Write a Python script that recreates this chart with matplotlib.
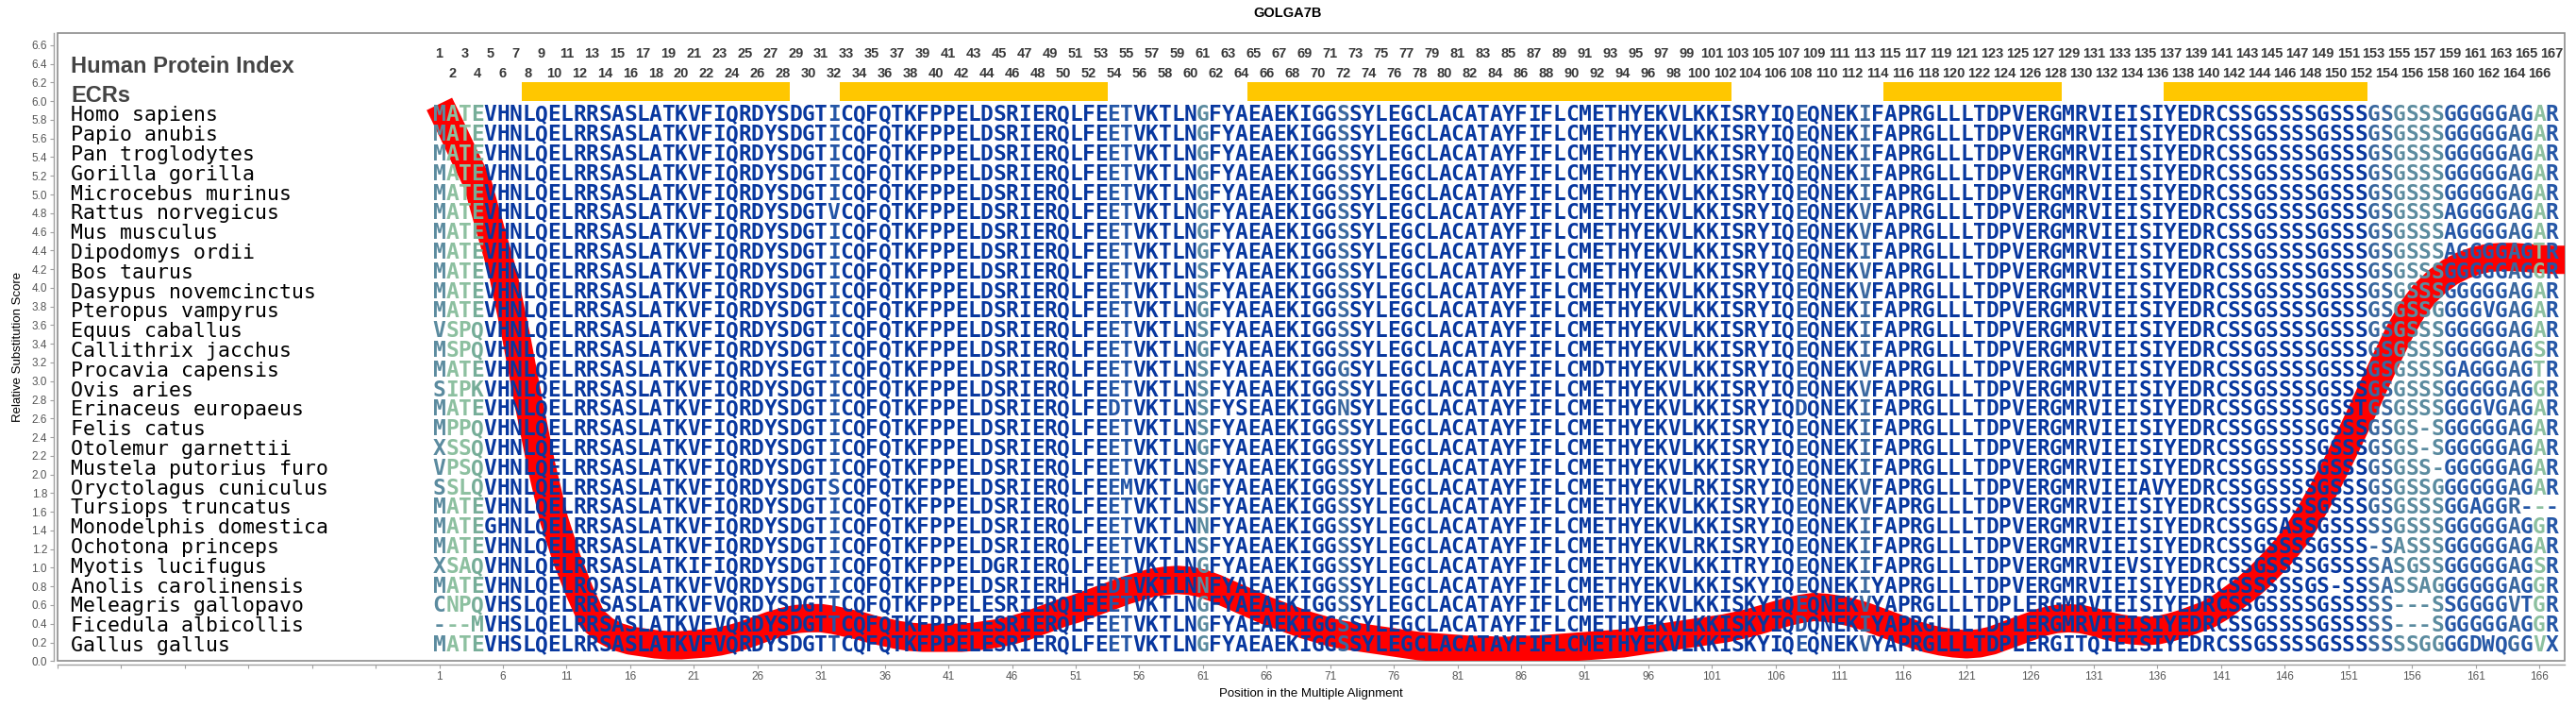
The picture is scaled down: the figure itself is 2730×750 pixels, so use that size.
import matplotlib
matplotlib.use('Agg')
import matplotlib.pyplot as plt
import numpy as np
from matplotlib.patches import Rectangle

# ---------------- data ----------------
title = "GOLGA7B"
species = ["Homo sapiens", "Papio anubis", "Pan troglodytes", "Gorilla gorilla",
           "Microcebus murinus", "Rattus norvegicus", "Mus musculus", "Dipodomys ordii",
           "Bos taurus", "Dasypus novemcinctus", "Pteropus vampyrus", "Equus caballus",
           "Callithrix jacchus", "Procavia capensis", "Ovis aries", "Erinaceus europaeus",
           "Felis catus", "Otolemur garnettii", "Mustela putorius furo", "Oryctolagus cuniculus",
           "Tursiops truncatus", "Monodelphis domestica", "Ochotona princeps", "Myotis lucifugus",
           "Anolis carolinensis", "Meleagris gallopavo", "Ficedula albicollis", "Gallus gallus"]

# alignment, split in four blocks: cols 1-43, 44-85, 86-127, 128-167
seq_block1 = [
    "MATEVHNLQELRRSASLATKVFIQRDYSDGTICQFQTKFPPEL",  # Homo
    "MATEVHNLQELRRSASLATKVFIQRDYSDGTICQFQTKFPPEL",  # Papio
    "MATEVHNLQELRRSASLATKVFIQRDYSDGTICQFQTKFPPEL",  # Pan
    "MATEVHNLQELRRSASLATKVFIQRDYSDGTICQFQTKFPPEL",  # Gorilla
    "MATEVHNLQELRRSASLATKVFIQRDYSDGTICQFQTKFPPEL",  # Microcebus
    "MATEVHNLQELRRSASLATKVFIQRDYSDGTVCQFQTKFPPEL",  # Rattus
    "MATEVHNLQELRRSASLATKVFIQRDYSDGTICQFQTKFPPEL",  # Mus
    "MATEVHNLQELRRSASLATKVFIQRDYSDGTICQFQTKFPPEL",  # Dipodomys
    "MATEVHNLQELRRSASLATKVFIQRDYSDGTICQFQTKFPPEL",  # Bos
    "MATEVHNLQELRRSASLATKVFIQRDYSDGTICQFQTKFPPEL",  # Dasypus
    "MATEVHNLQELRRSASLATKVFIQRDYSDGTICQFQTKFPPEL",  # Pteropus
    "VSPQVHNLQELRRSASLATKVFIQRDYSDGTICQFQTKFPPEL",  # Equus
    "MSPQVHNLQELRRSASLATKVFIQRDYSDGTICQFQTKFPPEL",  # Callithrix
    "MATEVHNLQELRRSASLATKVFIQRDYSEGTICQFQTKFPPEL",  # Procavia
    "SIPKVHNLQELRRSASLATKVFIQRDYSDGTICQFQTKFPPEL",  # Ovis
    "MATEVHNLQELRRSASLATKVFIQRDYSDGTICQFQTKFPPEL",  # Erinaceus
    "MPPQVHNLQELRRSASLATKVFIQRDYSDGTICQFQTKFPPEL",  # Felis
    "XSSQVHNLQELRRSASLATKVFIQRDYSDGTICQFQTKFPPEL",  # Otolemur
    "VPSQVHNLQELRRSASLATKVFIQRDYSDGTICQFQTKFPPEL",  # Mustela
    "SSLQVHNLQELRRSASLATKVFIQRDYSDGTSCQFQTKFPPEL",  # Oryctolagus
    "MATEVHNLQELRRSASLATKVFIQRDYSDGTICQFQTKFPPEL",  # Tursiops
    "MATEGHNLQELRRSASLATKVFIQRDYSDGTICQFQTKFPPEL",  # Monodelphis
    "MATEVHNLQELRRSASLATKVFIQRDYSDGTICQFQTKFPPEL",  # Ochotona
    "XSAQVHNLQELRRSASLATKIFIQRDYSDGTICQFQTKFPPEL",  # Myotis
    "MATEVHNLQELRQSASLATKVFVQRDYSDGTICQFQTKFPPEL",  # Anolis
    "CNPQVHSLQELRRSASLATKVFVQRDYSDGTTCQFQTKFPPEL",  # Meleagris
    "---MVHSLQELRRSASLATKVFVQRDYSDGTTCQFQTKFPPEL",  # Ficedula
    "MATEVHSLQELRRSASLATKVFVQRDYSDGTTCQFQTKFPPEL",  # Gallus
]
seq_block2 = [
    "DSRIERQLFEETVKTLNGFYAEAEKIGGSSYLEGCLACATAY",  # Homo
    "DSRIERQLFEETVKTLNGFYAEAEKIGGSSYLEGCLACATAY",
    "DSRIERQLFEETVKTLNGFYAEAEKIGGSSYLEGCLACATAY",
    "DSRIERQLFEETVKTLNGFYAEAEKIGGSSYLEGCLACATAY",
    "DSRIERQLFEETVKTLNGFYAEAEKIGGSSYLEGCLACATAY",
    "DSRIERQLFEETVKTLNGFYAEAEKIGGSSYLEGCLACATAY",  # Rattus
    "DSRIERQLFEETVKTLNGFYAEAEKIGGSSYLEGCLACATAY",  # Mus
    "DSRIERQLFEETVKTLNGFYAEAEKIGGSSYLEGCLACATAY",  # Dipodomys
    "DSRIERQLFEETVKTLNSFYAEAEKIGGSSYLEGCLACATAY",  # Bos
    "DSRIERQLFEETVKTLNSFYAEAEKIGGSSYLEGCLACATAY",  # Dasypus
    "DSRIERQLFEETVKTLNGFYAEAEKIGGSSYLEGCLACATAY",  # Pteropus
    "DSRIERQLFEETVKTLNSFYAEAEKIGGSSYLEGCLACATAY",  # Equus
    "DSRIERQLFEETVKTLNGFYAEAEKIGGSSYLEGCLACATAY",  # Callithrix
    "DSRIERQLFEETVKTLNSFYAEAEKIGGGSYLEGCLACATAY",  # Procavia
    "DSRIERQLFEETVKTLNSFYAEAEKIGGSSYLEGCLACATAY",  # Ovis
    "DSRIERQLFEDTVKTLNSFYSEAEKIGGNSYLEGCLACATAY",  # Erinaceus
    "DSRIERQLFEETVKTLNSFYAEAEKIGGSSYLEGCLACATAY",  # Felis
    "DSRIERQLFEETVKTLNGFYAEAEKIGGSSYLEGCLACATAY",  # Otolemur
    "DSRIERQLFEETVKTLNSFYAEAEKIGGSSYLEGCLACATAY",  # Mustela
    "DSRIERQLFEEMVKTLNGFYAEAEKIGGSSYLEGCLACATAY",  # Oryctolagus
    "DSRIERQLFEETVKTLNSFYAEAEKIGGSSYLEGCLACATAY",  # Tursiops
    "DSRIERQLFEETVKTLNNFYAEAEKIGGSSYLEGCLACATAY",  # Monodelphis
    "DSRIERQLFEETVKTLNSFYAEAEKIGGSSYLEGCLACATAY",  # Ochotona
    "DGRIERQLFEETVKTLNGFYAEAEKIGGSSYLEGCLACATAY",  # Myotis
    "DSRIERHLFEDTVKTLNNFYAEAEKIGGSSYLEGCLACATAY",  # Anolis
    "ESRIERQLFEETVKTLNGFYAEAEKIGGSSYLEGCLACATAY",  # Meleagris
    "ESRIERQLFEETVKTLNGFYAEAEKIGGSSYLEGCLACATAY",  # Ficedula
    "ESRIERQLFEETVKTLNGFYAEAEKIGGSSYLEGCLACATAY",  # Gallus
]
seq_block3 = [
    "FIFLCMETHYEKVLKKISRYIQEQNEKIFAPRGLLLTDPVER",  # Homo
    "FIFLCMETHYEKVLKKISRYIQEQNEKIFAPRGLLLTDPVER",
    "FIFLCMETHYEKVLKKISRYIQEQNEKIFAPRGLLLTDPVER",
    "FIFLCMETHYEKVLKKISRYIQEQNEKIFAPRGLLLTDPVER",
    "FIFLCMETHYEKVLKKISRYIQEQNEKIFAPRGLLLTDPVER",
    "FIFLCMETHYEKVLKKISRYIQEQNEKVFAPRGLLLTDPVER",  # Rattus
    "FIFLCMETHYEKVLKKISRYIQEQNEKVFAPRGLLLTDPVER",  # Mus
    "FIFLCMETHYEKVLKKISRYIQEQNEKIFAPRGLLLTDPVER",  # Dipodomys
    "FIFLCMETHYEKVLKKISRYIQEQNEKVFAPRGLLLTDPVER",  # Bos
    "FIFLCMETHYEKVLKKISRYIQEQNEKVFAPRGLLLTDPVER",  # Dasypus
    "FIFLCMETHYEKVLKKISRYIQEQNEKIFAPRGLLLTDPVER",  # Pteropus
    "FIFLCMETHYEKVLKKISRYIQEQNEKIFAPRGLLLTDPVER",  # Equus
    "FIFLCMETHYEKVLKKISRYIQEQNEKIFAPRGLLLTDPVER",  # Callithrix
    "FIFLCMDTHYEKVLKKISRYIQEQNEKVFAPRGLLLTDPVER",  # Procavia
    "FIFLCMETHYEKVLKKISRYIQEQNEKVFAPRGLLLTDPVER",  # Ovis
    "FIFLCMETHYEKVLKKISRYIQDQNEKIFAPRGLLLTDPVER",  # Erinaceus
    "FIFLCMETHYEKVLKKISRYIQEQNEKIFAPRGLLLTDPVER",  # Felis
    "FIFLCMETHYEKVLKKISRYIQEQNEKIFAPRGLLLTDPVER",  # Otolemur
    "FIFLCMETHYEKVLKKISRYIQEQNEKIFAPRGLLLTDPVER",  # Mustela
    "FIFLCMETHYEKVLRKISRYIQEQNEKVFAPRGLLLTDPVER",  # Oryctolagus
    "FIFLCMETHYEKVLKKISRYIQEQNEKVFAPRGLLLTDPVER",  # Tursiops
    "FIFLCMETHYEKVLKKISRYIQEQNEKIFAPRGLLLTDPVER",  # Monodelphis
    "FIFLCMETHYEKVLRKISRYIQEQNEKIFAPRGLLLTDPVER",  # Ochotona
    "FIFLCMETHYEKVLKKITRYIQEQNEKIFAPRGLLLTDPVER",  # Myotis
    "FIFLCMETHYEKVLKKISKYIQEQNEKIYAPRGLLLTDPVER",  # Anolis
    "FIFLCMETHYEKVLKKISKYIQEQNEKVYAPRGLLLTDPLER",  # Meleagris
    "FIFLCMETHYEKVLKKISKYIQDQNEKIYAPRGLLLTDPLER",  # Ficedula
    "FIFLCMETHYEKVLKKISKYIQEQNEKVYAPRGLLLTDPLER",  # Gallus
]
seq_block4 = [
    "GMRVIEISIYEDRCSSGSSSSGSSSGSGSSSGGGGGAGAR",  # Homo
    "GMRVIEISIYEDRCSSGSSSSGSSSGSGSSSGGGGGAGAR",
    "GMRVIEISIYEDRCSSGSSSSGSSSGSGSSSGGGGGAGAR",
    "GMRVIEISIYEDRCSSGSSSSGSSSGSGSSSGGGGGAGAR",
    "GMRVIEISIYEDRCSSGSSSSGSSSGSGSSSGGGGGAGAR",
    "GMRVIEISIYEDRCSSGSSSSGSSSGSGSSSAGGGGAGAR",  # Rattus
    "GMRVIEISIYEDRCSSGSSSSGSSSGSGSSSAGGGGAGAR",  # Mus
    "GMRVIEISIYEDRCSSGSSSSGSSSGSGSSSAGGGGAGTR",  # Dipodomys
    "GMRVIEISIYEDRCSSGSSSSGSSSGSGSSSGGGGGAGGR",  # Bos
    "GMRVIEISIYEDRCSSGSSSSGSSSGSGSSSGGGGGAGAR",  # Dasypus
    "GMRVIEISIYEDRCSSGSSSSGSSSGSGSSGGGGVGAGAR",  # Pteropus
    "GMRVIEISIYEDRCSSGSSSSGSSSGSGSSSGGGGGAGAR",  # Equus
    "GMRVIEISIYEDRCSSGSSSSGSSSGSGSSSGGGGGAGSR",  # Callithrix
    "GMRVIEISIYEDRCSSGSSSSGSSSGSGSSSGAGGGAGTR",  # Procavia
    "GMRVIEISIYEDRCSSGSSSSGSSSGSGSSSGGGGGAGGR",  # Ovis
    "GMRVIEISIYEDRCSSGSSSSGSSTGSGSSSGGGVGAGAR",  # Erinaceus
    "GMRVIEISIYEDRCSSGSSSSGSSSGSGS-SGGGGGAGAR",  # Felis
    "GMRVIEISIYEDRCSSGSSSSGSSSGSGS-SGGGGGAGAR",  # Otolemur
    "GMRVIEISIYEDRCSSGSSSSGSSSGSGSS-GGGGGAGAR",  # Mustela
    "GMRVIEIAVYEDRCSSGSSSSGSSSGSGSSGGGGGGAGAR",  # Oryctolagus
    "GMRVIEISIYEDRCSSGSSSSGSSSGSGSSSGGAGGR---",  # Tursiops
    "GMRVIEISIYEDRCSSGSASSGSSSSSGSSSGGGGGAGGR",  # Monodelphis
    "GMRVIEISIYEDRCSSGSSSSGSSS-SASSSGGGGGAGAR",  # Ochotona
    "GMRVIEVSIYEDRCSSGSSSSGSSSSASGSSGGGGGAGSR",  # Myotis
    "GMRVIEISIYEDRCSSSSSSGS-SSSASSAGGGGGGAGGR",  # Anolis
    "GMRVIEISIYEDRCSSGSSSSGSSSSS---SSGGGGVTGR",  # Meleagris
    "GMRVIEISIYEDRCSSGSSSSGSSSSS---SGGGGGAGGR",  # Ficedula
    "GITQIEISIYEDRCSSGSSSSGSSSSSSSGGGGDWQGGVX",  # Gallus
]

# conservation class of alignment columns (0 = fully conserved)
column_class = {1: 3, 2: 4, 3: 4, 4: 5, 32: 1, 54: 1, 55: 1, 61: 3, 72: 2,
                108: 1, 113: 2, 153: 2, 154: 2, 155: 3, 156: 3, 157: 3, 158: 3,
                159: 1, 160: 1, 161: 1, 162: 1, 163: 1, 164: 2, 165: 1, 166: 4, 167: 1}

# evolutionarily conserved regions (start, end positions)
ecr_start = [8, 33, 65, 115, 137]
ecr_end = [28, 53, 102, 128, 152]

# smoothed relative substitution score, positions 1..169
score_pos = list(range(1, 170))
score_val = [5.97, 5.69, 5.40, 5.12, 4.63, 4.15, 3.50, 2.78, 2.10, 1.52,
             1.10, 0.75, 0.45, 0.33, 0.26, 0.22, 0.20, 0.18, 0.17, 0.17,
             0.18, 0.19, 0.21, 0.24, 0.28, 0.33, 0.38, 0.42, 0.45, 0.46,
             0.46, 0.44, 0.41, 0.38, 0.34, 0.31, 0.28, 0.26, 0.25, 0.25,
             0.25, 0.25, 0.26, 0.28, 0.30, 0.33, 0.37, 0.42, 0.47, 0.52,
             0.56, 0.61, 0.66, 0.71, 0.76, 0.80, 0.84, 0.86, 0.87, 0.86,
             0.83, 0.78, 0.72, 0.66, 0.60, 0.54, 0.49, 0.44, 0.39, 0.35,
             0.31, 0.28, 0.26, 0.24, 0.22, 0.20, 0.18, 0.16, 0.15, 0.14,
             0.13, 0.12, 0.12, 0.11, 0.11, 0.12, 0.12, 0.13, 0.14, 0.15,
             0.16, 0.17, 0.18, 0.19, 0.21, 0.23, 0.25, 0.27, 0.29, 0.31,
             0.33, 0.35, 0.38, 0.41, 0.45, 0.49, 0.53, 0.56, 0.58, 0.57,
             0.55, 0.52, 0.48, 0.43, 0.38, 0.33, 0.28, 0.24, 0.21, 0.19,
             0.18, 0.19, 0.22, 0.27, 0.32, 0.37, 0.42, 0.45, 0.46, 0.45,
             0.42, 0.38, 0.35, 0.33, 0.32, 0.33, 0.36, 0.40, 0.45, 0.50,
             0.58, 0.68, 0.78, 0.90, 1.04, 1.19, 1.36, 1.58, 1.82, 2.08,
             2.36, 2.65, 2.95, 3.24, 3.52, 3.76, 3.94, 4.07, 4.17, 4.24,
             4.29, 4.32, 4.33, 4.33, 4.32, 4.31, 4.30, 4.30, 4.30]

n_cols = 167

# ---------------- style ----------------
class_colors = {0: '#07379F', 1: '#2456A6', 2: '#3A689F', 3: '#5B8B9F', 4: '#8DC0A0', 5: '#76AD98'}
W, H = 2730, 750
fig = plt.figure(figsize=(W / 100, H / 100), dpi=100)
ax = fig.add_axes([61 / W, 49.7 / H, (2718 - 61) / W, (700.3 - 35) / H])
ax.set_xlim(-28.95, 168.0)
ax.set_ylim(0, 6.73)

# frame
ax.add_patch(Rectangle((0, 0), 1, 1, transform=ax.transAxes, fill=False,
                       edgecolor='#8c8c8c', lw=1.2, clip_on=False, zorder=1))
for s in ['top', 'right']:
    ax.spines[s].set_visible(False)
for s in ['left', 'bottom']:
    ax.spines[s].set_position(('outward', 2.9))
    ax.spines[s].set_color('#a0a0a0')
    ax.spines[s].set_linewidth(1.0)

xt = np.arange(-29, 168, 5)
ax.set_xticks(xt)
ax.set_xticklabels([str(v) if v >= 1 else '' for v in xt])
yt = np.arange(0, 6.61, 0.2)
ax.set_yticks(yt)
ax.set_yticklabels([f'{v:.1f}' for v in yt])
ax.tick_params(direction='out', length=3, width=0.8, color='#a0a0a0',
               labelsize=8.5, labelcolor='#555555', pad=2)
for lab in ax.get_xticklabels() + ax.get_yticklabels():
    lab.set_family('Liberation Sans')

ax.set_xlabel('Position in the Multiple Alignment', fontsize=9.5, family='Liberation Sans', labelpad=4)
ax.set_ylabel('Relative Substitution Score', fontsize=9.5, family='Liberation Sans', labelpad=6)
fig.text(0.5, 1 - 14 / H, title, ha='center', va='center', fontsize=10.5,
         fontweight='bold', family='Liberation Sans')

# red score curve (clipped at the plot frame)
ax.plot(score_pos, score_val, color='#FF0000', lw=21.6, solid_capstyle='butt',
        solid_joinstyle='round', clip_on=True, zorder=2)

# ECR bars
for s, e in zip(ecr_start, ecr_end):
    ax.add_patch(Rectangle((s - 0.5, 6.0), e - s + 1, 0.2, facecolor='#FFC700',
                           edgecolor='none', zorder=2))

# header texts
label_x = -27.95
ax.text(label_x, 6.37, 'Human Protein Index', ha='left', va='center', fontsize=17,
        fontweight='bold', family='Liberation Sans', color='#444444', zorder=3)
ax.text(label_x, 6.06, 'ECRs', ha='left', va='center', fontsize=17,
        fontweight='bold', family='Liberation Sans', color='#444444', zorder=3)
for p in range(1, n_cols + 1):
    ax.text(p, 6.51 if p % 2 == 1 else 6.30, str(p), ha='center', va='center',
            fontsize=10.5, fontweight='bold', family='Liberation Sans', color='#383838', zorder=3)

# alignment rows
row_step = 0.2104
top_base = 5.785
for i, name in enumerate(species):
    base = top_base - i * row_step
    ax.text(label_x, base, name, ha='left', va='baseline', fontsize=15.5,
            family='DejaVu Sans Mono', color='black', zorder=3)
    seq = seq_block1[i] + seq_block2[i] + seq_block3[i] + seq_block4[i]
    seq = (seq + '-' * n_cols)[:n_cols]
    for c, ch in enumerate(seq, start=1):
        col = class_colors[column_class.get(c, 0)]
        ax.text(c, base, ch, ha='center', va='baseline', fontsize=16.5,
                family='DejaVu Sans Mono', fontweight='bold', color=col, zorder=3)

fig.savefig('out.png', dpi=100)
